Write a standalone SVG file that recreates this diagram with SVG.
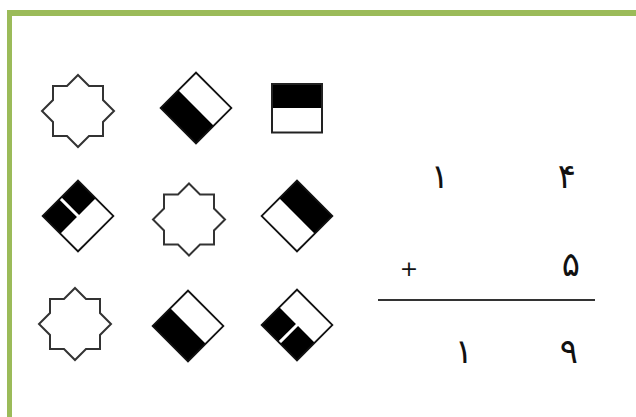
<svg xmlns="http://www.w3.org/2000/svg" width="636" height="417" viewBox="0 0 636 417">
<style>
.star{fill:#fff;stroke:#333;stroke-width:2;stroke-linejoin:miter}
.dia{fill:none;stroke:#111;stroke-width:1.8}
.blk{fill:#000}
.num{font-family:"DejaVu Sans",sans-serif;font-size:34px;fill:#111;text-anchor:middle}
</style>
<defs>
<path id="starShape" d="M0,-36 L11,-25 L25,-25 L25,-11 L36,0 L25,11 L25,25 L11,25 L0,36 L-11,25 L-25,25 L-25,11 L-36,0 L-25,-11 L-25,-25 L-11,-25 Z"/>
</defs>
<rect x="0" y="0" width="636" height="417" fill="#fff"/>
<g id="border">
<rect x="7" y="10" width="629" height="6" fill="#9bbb59"/>
<rect x="7" y="10" width="5" height="407" fill="#9bbb59"/>
</g>
<g id="r1c1"><use href="#starShape" class="star" transform="translate(78,111)"/></g>
<g id="r1c2" transform="translate(196,108) rotate(45)">
<rect class="blk" x="-25" y="0" width="50" height="25"/>
<rect class="dia" x="-25" y="-25" width="50" height="50"/>
</g>
<g id="r1c3">
<rect class="blk" x="272" y="84" width="50" height="24"/>
<rect x="272" y="84" width="50" height="48.5" fill="none" stroke="#222" stroke-width="2"/>
</g>
<g id="r2c1" transform="translate(78,216) rotate(45)">
<rect class="blk" x="-25" y="-25" width="25" height="23.5"/>
<rect class="blk" x="-25" y="1.5" width="25" height="23.5"/>
<rect class="dia" x="-25" y="-25" width="50" height="50"/>
</g>
<g id="r2c2"><use href="#starShape" class="star" transform="translate(189,219.5)"/></g>
<g id="r2c3" transform="translate(297,216) rotate(45)">
<rect class="blk" x="-25" y="-25" width="50" height="25"/>
<rect class="dia" x="-25" y="-25" width="50" height="50"/>
</g>
<g id="r3c1"><use href="#starShape" class="star" transform="translate(75,324)"/></g>
<g id="r3c2" transform="translate(188,326) rotate(45)">
<rect class="blk" x="-25" y="0" width="50" height="25"/>
<rect class="dia" x="-25" y="-25" width="50" height="50"/>
</g>
<g id="r3c3" transform="translate(297,325) rotate(45)">
<rect class="blk" x="-25" y="0" width="23.5" height="25"/>
<rect class="blk" x="1.5" y="0" width="23.5" height="25"/>
<rect class="dia" x="-25" y="-25" width="50" height="50"/>
</g>
<g id="sum">
<text class="num" x="440" y="188">۱</text>
<text class="num" x="567" y="188">۴</text>
<text class="num" x="409" y="276" style="font-size:22px">+</text>
<text class="num" x="571" y="276">۵</text>
<line x1="378" y1="300" x2="595" y2="300" stroke="#333" stroke-width="2"/>
<text class="num" x="464" y="363">۱</text>
<text class="num" x="569" y="363">۹</text>
</g>
</svg>
